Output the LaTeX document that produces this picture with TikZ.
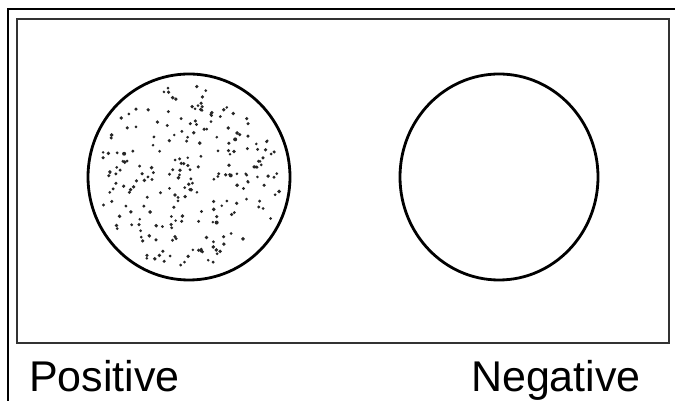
\documentclass[tikz,border=0pt]{standalone}
\usepackage{fontspec}
\setmainfont{Liberation Sans}
\usetikzlibrary{shapes.geometric,calc}
\begin{document}
\begin{tikzpicture}[x=1pt,y=1pt,
  frameline/.style={line width=1.5pt,black},
  innerbox/.style={draw=black!80,line width=2pt},
  dish/.style={draw=black,line width=2.8pt},
  speck/.style={fill=black!85},
  lab/.style={font=\fontsize{43}{48}\selectfont,inner sep=0pt}]
\useasboundingbox (0,0) rectangle (675,401);
% outer frame (cut at right and bottom)
\coordinate (ob) at (8,0);
\coordinate (oc) at (8,392);
\coordinate (or) at (675,392);
\draw[frameline] (ob) -- (oc) -- (or);
% inner box
\node[innerbox,minimum width=652pt,minimum height=324pt,inner sep=0pt] (box) at (343,220) {};
% circles
\node[dish,ellipse,minimum width=202pt,minimum height=206pt,inner sep=0pt] (pos) at (189,224) {};
\node[dish,ellipse,minimum width=198pt,minimum height=206pt,inner sep=0pt] (neg) at (499,224) {};
% specks
\pgfmathsetseed{11}
\foreach \i in {1,...,230}{
  \pgfmathsetmacro{\rr}{92*sqrt(rnd)}
  \pgfmathsetmacro{\aa}{360*rnd}
  \pgfmathsetmacro{\ss}{1.4+0.6*rnd}
  \fill[speck] ($(pos.center)+(\aa:\rr)$) circle (\ss);
}
% labels
\node[lab,anchor=base west] (lp) at (29,9) {Positive};
\node[lab,anchor=base east] (ln) at (641,9) {Negative};
\end{tikzpicture}
\end{document}
